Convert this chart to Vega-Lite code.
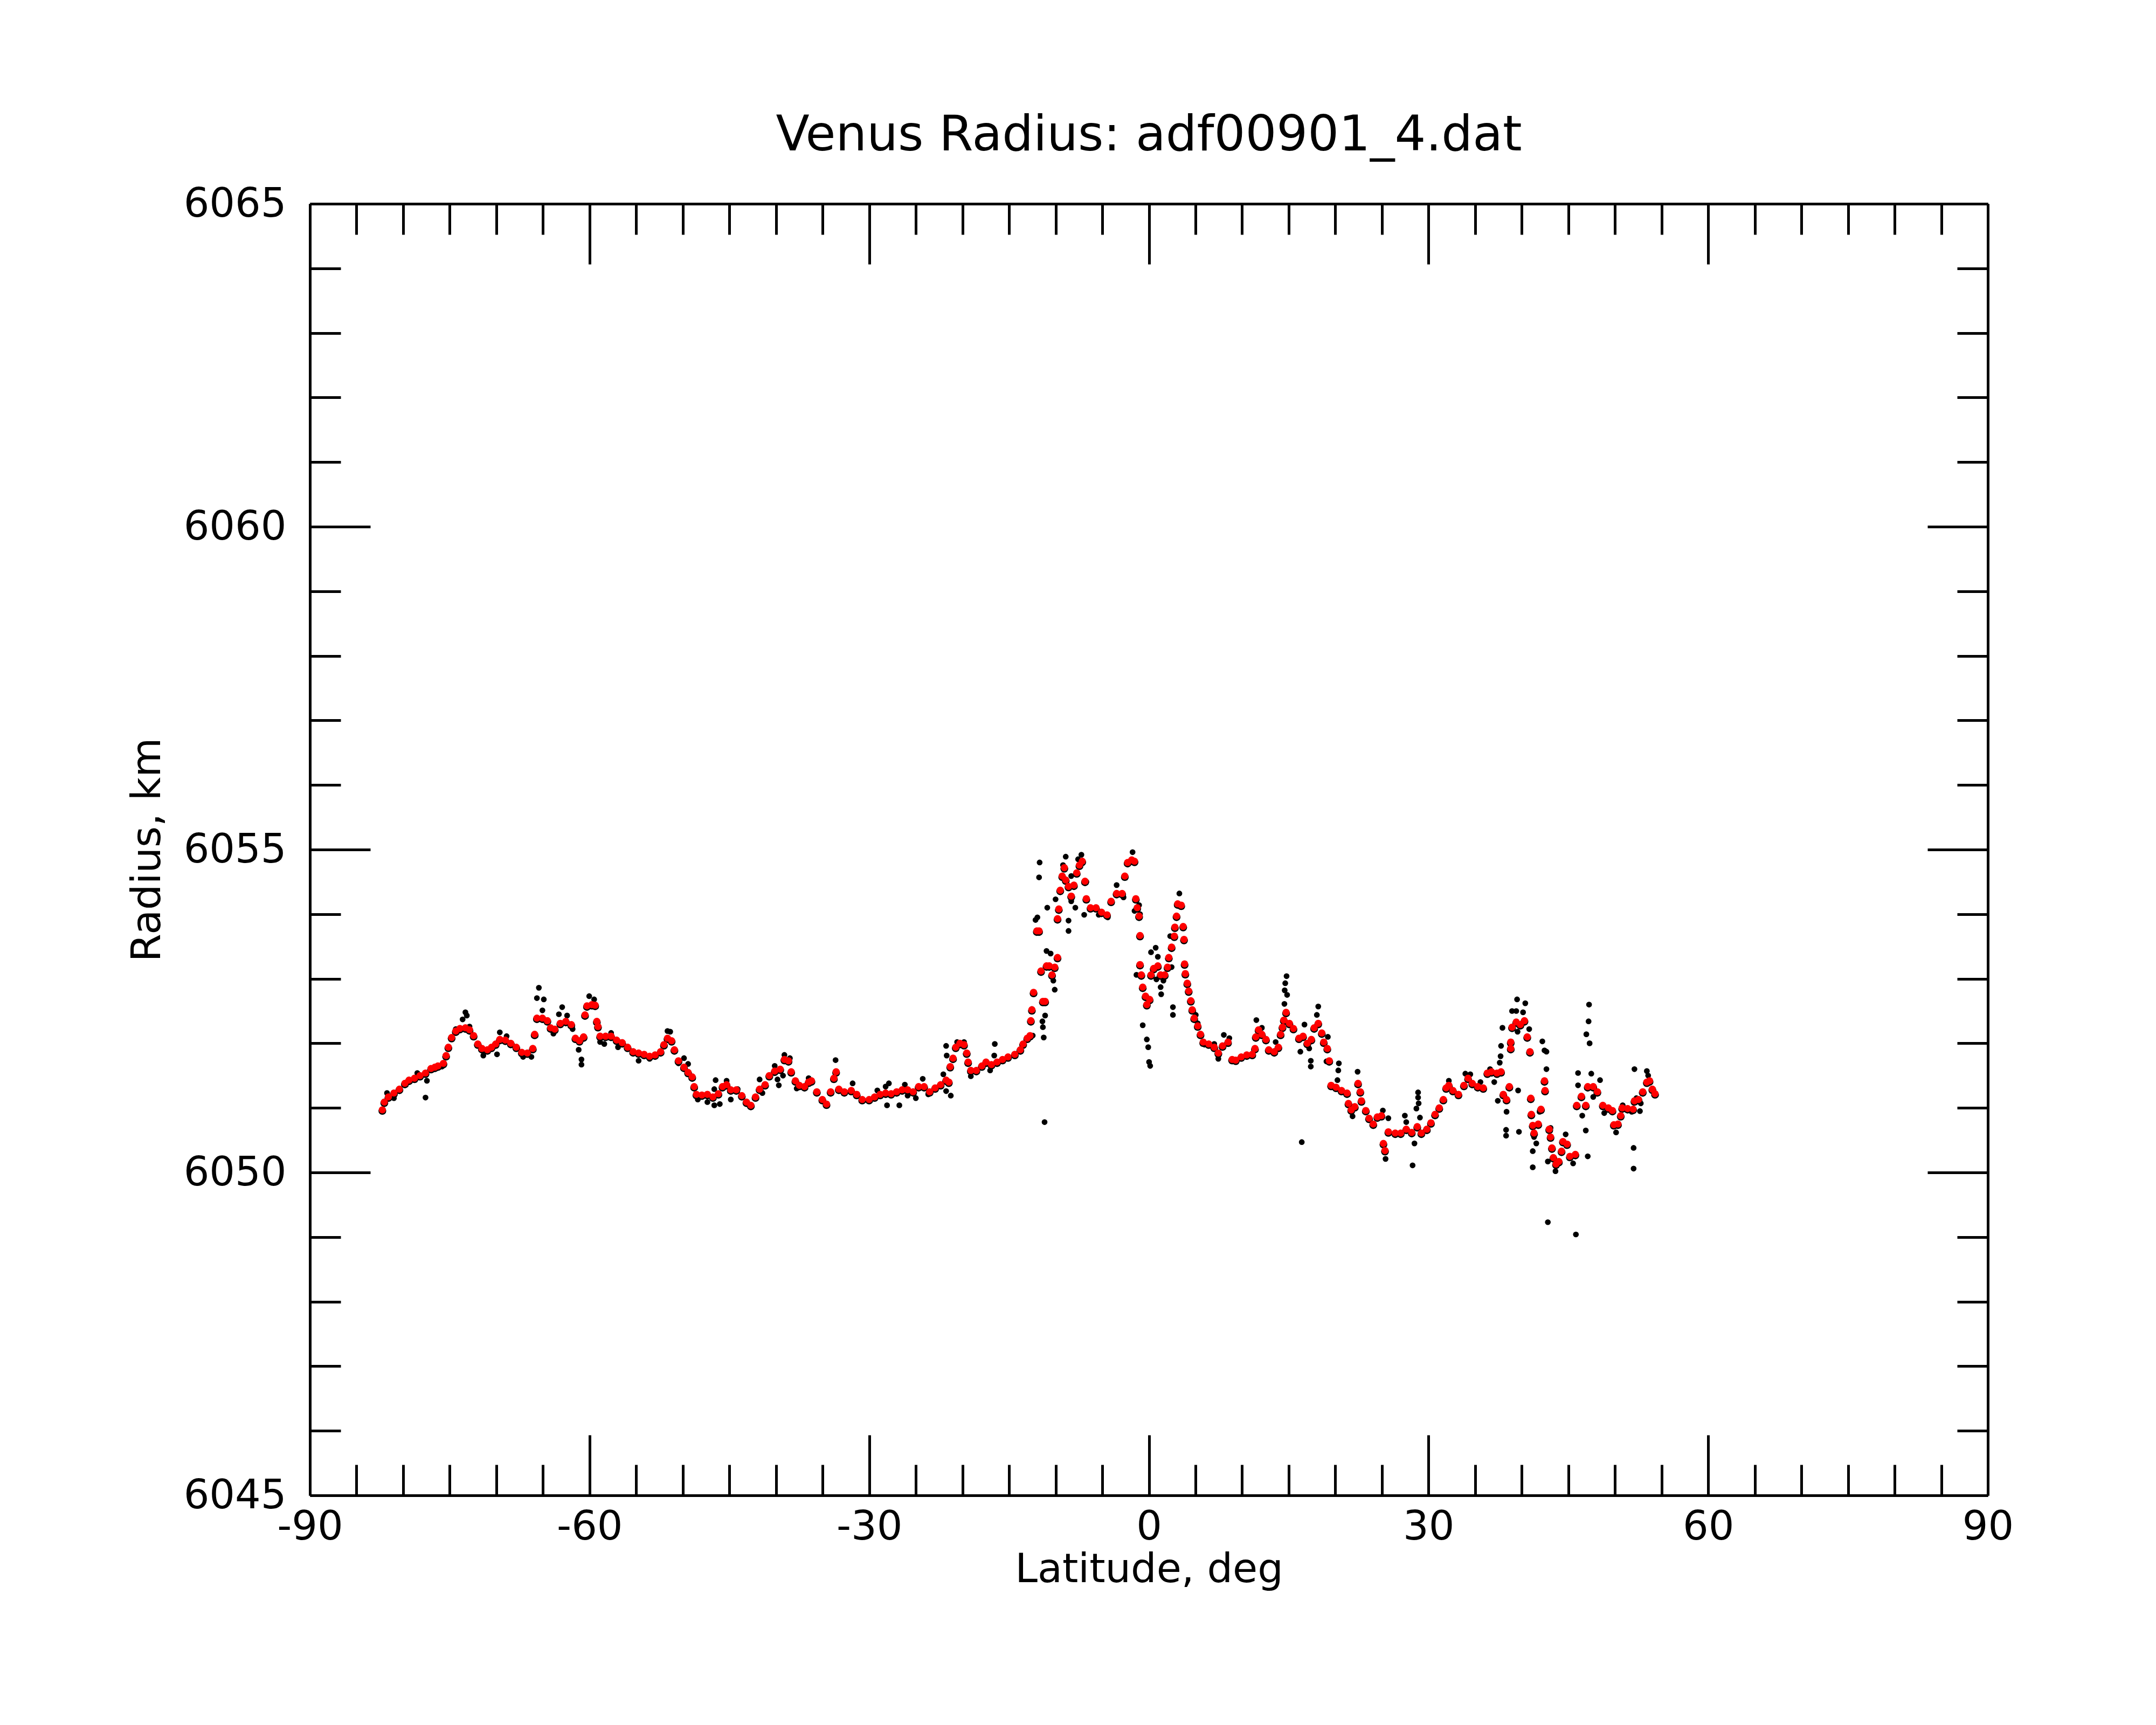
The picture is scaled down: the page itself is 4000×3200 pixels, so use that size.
{
"$schema":"https://vega.github.io/schema/vega-lite/v6.json",
"width":3113,"height":2396,
"autosize":"none",
"padding":{"left":575,"top":378,"right":312,"bottom":426},
"background":"white",
"config":{"font":"DejaVu Sans","view":{"stroke":null}},
"title":{"text":"Venus Radius: adf00901_4.dat","fontSize":91,"font":"DejaVu Sans","fontWeight":"normal","color":"black","anchor":"middle","baseline":"alphabetic","offset":-29},
"datasets":{
"fit":[
{"lat":-82.23,"r":6050.97},{"lat":-82.02,"r":6051.09},{"lat":-81.58,"r":6051.17},{"lat":-80.99,"r":6051.23},{"lat":-80.4,"r":6051.29},{"lat":-79.81,"r":6051.38},{"lat":-79.37,"r":6051.43},{"lat":-78.78,"r":6051.46},{"lat":-78.19,"r":6051.5},{"lat":-77.6,"r":6051.54},{"lat":-77.01,"r":6051.61},{"lat":-76.6,"r":6051.63},{"lat":-76.27,"r":6051.65},{"lat":-75.68,"r":6051.69},{"lat":-75.39,"r":6051.81},{"lat":-75.15,"r":6051.94},{"lat":-74.8,"r":6052.09},{"lat":-74.35,"r":6052.19},{"lat":-73.91,"r":6052.23},{"lat":-73.32,"r":6052.24},{"lat":-72.88,"r":6052.21},{"lat":-72.44,"r":6052.12},{"lat":-71.99,"r":6051.99},{"lat":-71.55,"r":6051.92},{"lat":-70.96,"r":6051.9},{"lat":-70.52,"r":6051.94},{"lat":-70.07,"r":6051.99},{"lat":-69.63,"r":6052.06},{"lat":-69.04,"r":6052.05},{"lat":-68.45,"r":6052.0},{"lat":-67.86,"r":6051.94},{"lat":-67.27,"r":6051.86},{"lat":-66.68,"r":6051.85},{"lat":-66.09,"r":6051.92},{"lat":-65.89,"r":6052.14},{"lat":-65.65,"r":6052.39},{"lat":-65.06,"r":6052.39},{"lat":-64.53,"r":6052.35},{"lat":-64.18,"r":6052.24},{"lat":-63.73,"r":6052.22},{"lat":-63.14,"r":6052.31},{"lat":-62.55,"r":6052.34},{"lat":-61.96,"r":6052.29},{"lat":-61.52,"r":6052.08},{"lat":-61.08,"r":6052.04},{"lat":-60.64,"r":6052.1},{"lat":-60.49,"r":6052.44},{"lat":-60.28,"r":6052.58},{"lat":-59.75,"r":6052.6},{"lat":-59.4,"r":6052.59},{"lat":-59.22,"r":6052.34},{"lat":-59.1,"r":6052.26},{"lat":-58.87,"r":6052.11},{"lat":-58.28,"r":6052.11},{"lat":-57.69,"r":6052.11},{"lat":-57.1,"r":6052.05},{"lat":-56.5,"r":6052.01},{"lat":-55.92,"r":6051.94},{"lat":-55.33,"r":6051.87},{"lat":-54.74,"r":6051.85},{"lat":-54.15,"r":6051.83},{"lat":-53.56,"r":6051.8},{"lat":-52.97,"r":6051.82},{"lat":-52.38,"r":6051.87},{"lat":-52.02,"r":6051.98},{"lat":-51.64,"r":6052.08},{"lat":-51.2,"r":6052.04},{"lat":-50.9,"r":6051.9},{"lat":-50.46,"r":6051.73},{"lat":-49.87,"r":6051.63},{"lat":-49.43,"r":6051.55},{"lat":-48.99,"r":6051.48},{"lat":-48.78,"r":6051.33},{"lat":-48.54,"r":6051.21},{"lat":-47.95,"r":6051.2},{"lat":-47.36,"r":6051.21},{"lat":-46.77,"r":6051.17},{"lat":-46.18,"r":6051.22},{"lat":-45.74,"r":6051.33},{"lat":-45.3,"r":6051.36},{"lat":-44.85,"r":6051.28},{"lat":-44.26,"r":6051.28},{"lat":-43.67,"r":6051.19},{"lat":-43.17,"r":6051.09},{"lat":-42.7,"r":6051.04},{"lat":-42.2,"r":6051.17},{"lat":-41.76,"r":6051.29},{"lat":-41.17,"r":6051.36},{"lat":-40.72,"r":6051.5},{"lat":-40.14,"r":6051.57},{"lat":-39.55,"r":6051.6},{"lat":-39.1,"r":6051.75},{"lat":-38.66,"r":6051.73},{"lat":-38.37,"r":6051.56},{"lat":-37.92,"r":6051.42},{"lat":-37.5,"r":6051.35},{"lat":-36.94,"r":6051.33},{"lat":-36.5,"r":6051.4},{"lat":-36.2,"r":6051.42},{"lat":-35.62,"r":6051.25},{"lat":-35.03,"r":6051.13},{"lat":-34.58,"r":6051.06},{"lat":-34.14,"r":6051.25},{"lat":-33.79,"r":6051.46},{"lat":-33.55,"r":6051.56},{"lat":-33.26,"r":6051.29},{"lat":-32.67,"r":6051.25},{"lat":-31.93,"r":6051.27},{"lat":-31.34,"r":6051.21},{"lat":-30.75,"r":6051.13},{"lat":-30.01,"r":6051.13},{"lat":-29.42,"r":6051.17},{"lat":-28.83,"r":6051.21},{"lat":-28.24,"r":6051.23},{"lat":-27.65,"r":6051.22},{"lat":-27.06,"r":6051.25},{"lat":-26.47,"r":6051.28},{"lat":-25.88,"r":6051.28},{"lat":-25.29,"r":6051.25},{"lat":-24.7,"r":6051.33},{"lat":-24.11,"r":6051.33},{"lat":-23.52,"r":6051.25},{"lat":-22.93,"r":6051.31},{"lat":-22.34,"r":6051.36},{"lat":-21.75,"r":6051.43},{"lat":-21.46,"r":6051.4},{"lat":-21.31,"r":6051.64},{"lat":-21.01,"r":6051.77},{"lat":-20.72,"r":6051.94},{"lat":-20.28,"r":6052.0},{"lat":-19.83,"r":6051.98},{"lat":-19.54,"r":6051.85},{"lat":-19.39,"r":6051.71},{"lat":-19.1,"r":6051.58},{"lat":-18.51,"r":6051.58},{"lat":-17.92,"r":6051.65},{"lat":-17.47,"r":6051.71},{"lat":-16.89,"r":6051.67},{"lat":-16.29,"r":6051.71},{"lat":-15.7,"r":6051.75},{"lat":-15.11,"r":6051.79},{"lat":-14.38,"r":6051.83},{"lat":-13.79,"r":6051.9},{"lat":-13.49,"r":6051.99},{"lat":-13.05,"r":6052.08},{"lat":-12.75,"r":6052.12},{"lat":-12.66,"r":6052.35},{"lat":-12.55,"r":6052.52},{"lat":-12.37,"r":6052.79},{"lat":-12.02,"r":6053.74},{"lat":-11.78,"r":6053.74},{"lat":-11.57,"r":6053.12},{"lat":-11.37,"r":6052.65},{"lat":-11.13,"r":6052.65},{"lat":-10.98,"r":6053.2},{"lat":-10.69,"r":6053.2},{"lat":-10.39,"r":6053.06},{"lat":-10.1,"r":6053.18},{"lat":-9.8,"r":6053.33},{"lat":-9.8,"r":6053.93},{"lat":-9.66,"r":6054.08},{"lat":-9.51,"r":6054.37},{"lat":-9.3,"r":6054.59},{"lat":-9.07,"r":6054.72},{"lat":-8.92,"r":6054.53},{"lat":-8.62,"r":6054.43},{"lat":-8.33,"r":6054.28},{"lat":-8.04,"r":6054.45},{"lat":-7.74,"r":6054.64},{"lat":-7.45,"r":6054.76},{"lat":-7.15,"r":6054.82},{"lat":-6.85,"r":6054.51},{"lat":-6.71,"r":6054.24},{"lat":-6.26,"r":6054.1},{"lat":-5.67,"r":6054.1},{"lat":-5.08,"r":6054.03},{"lat":-4.49,"r":6053.99},{"lat":-4.05,"r":6054.2},{"lat":-3.46,"r":6054.32},{"lat":-2.87,"r":6054.32},{"lat":-2.58,"r":6054.59},{"lat":-2.28,"r":6054.8},{"lat":-1.84,"r":6054.84},{"lat":-1.54,"r":6054.82},{"lat":-1.4,"r":6054.24},{"lat":-1.25,"r":6054.1},{"lat":-1.05,"r":6053.97},{"lat":-0.95,"r":6053.67},{"lat":-0.95,"r":6053.22},{"lat":-0.81,"r":6053.06},{"lat":-0.66,"r":6052.87},{"lat":-0.36,"r":6052.73},{"lat":-0.22,"r":6052.6},{"lat":0.08,"r":6052.68},{"lat":0.23,"r":6053.06},{"lat":0.52,"r":6053.16},{"lat":0.96,"r":6053.2},{"lat":1.26,"r":6053.06},{"lat":1.7,"r":6053.06},{"lat":2.0,"r":6053.18},{"lat":2.14,"r":6053.33},{"lat":2.44,"r":6053.49},{"lat":2.73,"r":6053.66},{"lat":2.79,"r":6053.8},{"lat":2.97,"r":6053.97},{"lat":3.09,"r":6054.16},{"lat":3.47,"r":6054.14},{"lat":3.68,"r":6053.81},{"lat":3.77,"r":6053.61},{"lat":3.83,"r":6053.23},{"lat":3.91,"r":6053.08},{"lat":4.12,"r":6052.93},{"lat":4.27,"r":6052.81},{"lat":4.5,"r":6052.66},{"lat":4.65,"r":6052.52},{"lat":4.86,"r":6052.39},{"lat":5.24,"r":6052.27},{"lat":5.54,"r":6052.14},{"lat":5.83,"r":6052.02},{"lat":6.42,"r":6051.99},{"lat":7.01,"r":6051.94},{"lat":7.45,"r":6051.85},{"lat":7.9,"r":6051.96},{"lat":8.49,"r":6052.02},{"lat":8.93,"r":6051.75},{"lat":9.32,"r":6051.74},{"lat":9.91,"r":6051.79},{"lat":10.5,"r":6051.82},{"lat":11.09,"r":6051.83},{"lat":11.38,"r":6051.92},{"lat":11.47,"r":6052.1},{"lat":11.77,"r":6052.21},{"lat":12.12,"r":6052.14},{"lat":12.56,"r":6052.06},{"lat":12.86,"r":6051.9},{"lat":13.45,"r":6051.87},{"lat":13.89,"r":6051.94},{"lat":14.13,"r":6052.14},{"lat":14.33,"r":6052.25},{"lat":14.48,"r":6052.36},{"lat":14.72,"r":6052.48},{"lat":15.07,"r":6052.31},{"lat":15.51,"r":6052.23},{"lat":16.1,"r":6052.08},{"lat":16.54,"r":6052.11},{"lat":16.99,"r":6052.0},{"lat":17.43,"r":6052.06},{"lat":17.73,"r":6052.24},{"lat":18.17,"r":6052.31},{"lat":18.55,"r":6052.16},{"lat":18.76,"r":6052.02},{"lat":19.14,"r":6051.92},{"lat":19.35,"r":6051.73},{"lat":19.55,"r":6051.35},{"lat":20.08,"r":6051.32},{"lat":20.67,"r":6051.27},{"lat":21.26,"r":6051.23},{"lat":21.41,"r":6051.07},{"lat":21.71,"r":6050.97},{"lat":22.09,"r":6051.02},{"lat":22.44,"r":6051.38},{"lat":22.68,"r":6051.25},{"lat":22.8,"r":6051.11},{"lat":23.27,"r":6050.96},{"lat":23.62,"r":6050.84},{"lat":24.07,"r":6050.75},{"lat":24.51,"r":6050.86},{"lat":24.95,"r":6050.88},{"lat":25.16,"r":6050.45},{"lat":25.33,"r":6050.34},{"lat":25.69,"r":6050.63},{"lat":26.43,"r":6050.61},{"lat":27.02,"r":6050.61},{"lat":27.61,"r":6050.67},{"lat":28.2,"r":6050.62},{"lat":28.79,"r":6050.71},{"lat":29.23,"r":6050.61},{"lat":29.82,"r":6050.67},{"lat":30.26,"r":6050.77},{"lat":30.7,"r":6050.9},{"lat":31.15,"r":6051.0},{"lat":31.59,"r":6051.13},{"lat":31.89,"r":6051.31},{"lat":32.18,"r":6051.35},{"lat":32.62,"r":6051.27},{"lat":33.21,"r":6051.21},{"lat":33.8,"r":6051.35},{"lat":34.24,"r":6051.46},{"lat":34.69,"r":6051.38},{"lat":35.28,"r":6051.33},{"lat":35.87,"r":6051.31},{"lat":36.31,"r":6051.54},{"lat":36.75,"r":6051.56},{"lat":37.34,"r":6051.54},{"lat":37.78,"r":6051.56},{"lat":38.02,"r":6051.21},{"lat":38.37,"r":6051.13},{"lat":38.67,"r":6051.33},{"lat":38.82,"r":6051.92},{"lat":38.82,"r":6052.02},{"lat":38.96,"r":6052.25},{"lat":39.41,"r":6052.33},{"lat":39.85,"r":6052.29},{"lat":40.29,"r":6052.35},{"lat":40.59,"r":6052.1},{"lat":40.88,"r":6051.87},{"lat":40.97,"r":6051.15},{"lat":41.03,"r":6050.9},{"lat":41.18,"r":6050.73},{"lat":41.32,"r":6050.61},{"lat":41.77,"r":6050.75},{"lat":42.06,"r":6050.98},{"lat":42.44,"r":6051.42},{"lat":42.5,"r":6051.27},{"lat":42.95,"r":6050.67},{"lat":43.09,"r":6050.55},{"lat":43.24,"r":6050.38},{"lat":43.39,"r":6050.23},{"lat":43.68,"r":6050.13},{"lat":43.98,"r":6050.17},{"lat":44.27,"r":6050.33},{"lat":44.42,"r":6050.48},{"lat":44.86,"r":6050.44},{"lat":45.16,"r":6050.25},{"lat":45.75,"r":6050.28},{"lat":45.9,"r":6051.04},{"lat":46.4,"r":6051.18},{"lat":46.87,"r":6051.04},{"lat":47.08,"r":6051.33},{"lat":47.67,"r":6051.33},{"lat":48.11,"r":6051.25},{"lat":48.7,"r":6051.04},{"lat":49.29,"r":6051.0},{"lat":49.73,"r":6050.96},{"lat":49.88,"r":6050.74},{"lat":50.32,"r":6050.75},{"lat":50.62,"r":6050.88},{"lat":50.77,"r":6051.0},{"lat":51.36,"r":6050.99},{"lat":51.95,"r":6050.98},{"lat":52.09,"r":6051.11},{"lat":52.53,"r":6051.13},{"lat":52.98,"r":6051.25},{"lat":53.42,"r":6051.4},{"lat":53.71,"r":6051.42},{"lat":54.01,"r":6051.29},{"lat":54.3,"r":6051.22}
],
"raw":[
{"lat":-81.73,"r":6051.23},{"lat":-80.99,"r":6051.15},{"lat":-78.48,"r":6051.54},{"lat":-77.45,"r":6051.42},{"lat":-77.6,"r":6051.16},{"lat":-75.83,"r":6051.64},{"lat":-74.35,"r":6052.22},{"lat":-73.62,"r":6052.37},{"lat":-73.32,"r":6052.48},{"lat":-73.17,"r":6052.43},{"lat":-72.88,"r":6052.26},{"lat":-71.4,"r":6051.81},{"lat":-69.93,"r":6051.83},{"lat":-69.63,"r":6052.17},{"lat":-68.9,"r":6052.11},{"lat":-67.13,"r":6051.79},{"lat":-66.24,"r":6051.79},{"lat":-65.44,"r":6052.86},{"lat":-65.65,"r":6052.7},{"lat":-64.91,"r":6052.68},{"lat":-65.06,"r":6052.51},{"lat":-63.88,"r":6052.15},{"lat":-63.29,"r":6052.45},{"lat":-62.94,"r":6052.56},{"lat":-62.41,"r":6052.43},{"lat":-61.82,"r":6052.22},{"lat":-61.17,"r":6051.9},{"lat":-60.87,"r":6051.75},{"lat":-60.87,"r":6051.67},{"lat":-60.04,"r":6052.73},{"lat":-59.51,"r":6052.68},{"lat":-58.87,"r":6052.02},{"lat":-58.42,"r":6051.99},{"lat":-57.69,"r":6052.16},{"lat":-56.95,"r":6051.94},{"lat":-54.74,"r":6051.73},{"lat":-53.56,"r":6051.76},{"lat":-51.64,"r":6052.19},{"lat":-51.35,"r":6052.18},{"lat":-50.46,"r":6051.69},{"lat":-49.87,"r":6051.77},{"lat":-49.43,"r":6051.68},{"lat":-48.39,"r":6051.13},{"lat":-47.36,"r":6051.09},{"lat":-46.62,"r":6051.04},{"lat":-46.48,"r":6051.43},{"lat":-46.03,"r":6051.06},{"lat":-46.62,"r":6051.29},{"lat":-45.3,"r":6051.42},{"lat":-44.85,"r":6051.13},{"lat":-44.11,"r":6051.29},{"lat":-42.79,"r":6051.02},{"lat":-41.76,"r":6051.44},{"lat":-41.46,"r":6051.23},{"lat":-40.14,"r":6051.65},{"lat":-39.84,"r":6051.44},{"lat":-39.7,"r":6051.35},{"lat":-39.25,"r":6051.5},{"lat":-39.1,"r":6051.82},{"lat":-38.51,"r":6051.77},{"lat":-37.78,"r":6051.3},
{"lat":-36.5,"r":6051.46},{"lat":-33.61,"r":6051.74},{"lat":-31.78,"r":6051.38},{"lat":-29.13,"r":6051.27},{"lat":-28.09,"r":6051.04},{"lat":-28.24,"r":6051.33},{"lat":-27.89,"r":6051.38},{"lat":-26.77,"r":6051.04},{"lat":-26.18,"r":6051.36},{"lat":-25.88,"r":6051.19},{"lat":-25.0,"r":6051.15},{"lat":-24.26,"r":6051.45},{"lat":-23.67,"r":6051.21},{"lat":-22.05,"r":6051.52},{"lat":-21.75,"r":6051.26},{"lat":-21.25,"r":6051.19},{"lat":-21.75,"r":6051.96},{"lat":-21.69,"r":6051.81},{"lat":-20.57,"r":6052.02},{"lat":-19.83,"r":6052.02},{"lat":-19.1,"r":6051.49},{"lat":-18.51,"r":6051.56},{"lat":-17.03,"r":6051.58},{"lat":-16.53,"r":6051.99},{"lat":-16.59,"r":6051.81},{"lat":-12.46,"r":6052.12},{"lat":-12.55,"r":6052.53},{"lat":-12.16,"r":6053.91},{"lat":-11.96,"r":6053.95},{"lat":-11.72,"r":6054.8},{"lat":-11.78,"r":6054.57},{"lat":-10.98,"r":6053.43},{"lat":-10.54,"r":6053.39},{"lat":-10.25,"r":6052.97},{"lat":-10.1,"r":6052.83},{"lat":-11.13,"r":6052.43},{"lat":-11.42,"r":6052.34},{"lat":-11.37,"r":6052.25},{"lat":-11.28,"r":6052.09},{"lat":-11.19,"r":6050.78},{"lat":-10.9,"r":6054.1},{"lat":-10.01,"r":6054.23},{"lat":-9.21,"r":6054.76},{"lat":-8.92,"r":6054.89},{"lat":-8.62,"r":6053.9},{"lat":-8.62,"r":6053.74},{"lat":-8.33,"r":6054.2},{"lat":-7.89,"r":6054.1},{"lat":-8.33,"r":6054.59},{"lat":-7.59,"r":6054.85},{"lat":-7.24,"r":6054.92},{"lat":-6.94,"r":6053.99},{"lat":-6.71,"r":6054.5},{"lat":-5.38,"r":6053.99},{"lat":-4.41,"r":6053.95},{"lat":-3.46,"r":6054.45},{"lat":-2.72,"r":6054.26},{"lat":-1.75,"r":6054.96},{"lat":-1.54,"r":6054.05},{"lat":-1.05,"r":6054.14},{"lat":-0.95,"r":6054.0},{"lat":-1.33,"r":6053.06},{"lat":-0.66,"r":6052.28},{"lat":-0.22,"r":6052.06},{"lat":-0.07,"r":6051.94},{"lat":0.02,"r":6051.71},{"lat":0.14,"r":6051.65},{"lat":0.23,"r":6053.41},{"lat":0.73,"r":6053.48},{"lat":0.96,"r":6053.34},{"lat":0.81,"r":6052.99},{"lat":1.26,"r":6052.87},{"lat":1.32,"r":6052.76},{"lat":1.56,"r":6052.97},{"lat":2.44,"r":6053.18},{"lat":2.29,"r":6053.66},{"lat":2.58,"r":6052.56},{"lat":2.58,"r":6052.44},{"lat":3.27,"r":6054.32},{"lat":5.03,"r":6052.44},{"lat":5.24,"r":6052.31},{"lat":5.98,"r":6051.98},{"lat":7.01,"r":6051.99},{"lat":7.45,"r":6051.76},{"lat":8.04,"r":6052.13},{"lat":8.63,"r":6052.08},
{"lat":11.53,"r":6052.36},{"lat":12.12,"r":6052.24},{"lat":13.6,"r":6052.02},{"lat":14.77,"r":6053.04},{"lat":14.63,"r":6052.93},{"lat":14.57,"r":6052.82},{"lat":14.83,"r":6052.75},{"lat":14.54,"r":6052.61},{"lat":16.25,"r":6051.87},{"lat":16.4,"r":6050.47},{"lat":16.69,"r":6052.29},{"lat":17.2,"r":6051.92},{"lat":17.37,"r":6051.73},{"lat":17.37,"r":6051.64},{"lat":18.17,"r":6052.57},{"lat":18.02,"r":6052.44},{"lat":19.2,"r":6052.1},{"lat":19.05,"r":6051.72},{"lat":20.38,"r":6051.69},{"lat":20.32,"r":6051.58},{"lat":20.23,"r":6051.43},{"lat":21.85,"r":6050.87},{"lat":22.39,"r":6051.56},{"lat":25.1,"r":6050.96},{"lat":25.69,"r":6050.84},{"lat":25.39,"r":6050.21},{"lat":27.46,"r":6050.88},{"lat":27.61,"r":6050.78},{"lat":28.49,"r":6050.45},{"lat":28.29,"r":6050.11},{"lat":28.88,"r":6051.24},{"lat":28.88,"r":6051.16},{"lat":28.94,"r":6051.07},{"lat":28.7,"r":6050.99},{"lat":29.08,"r":6050.85},{"lat":32.18,"r":6051.42},{"lat":33.95,"r":6051.53},{"lat":34.48,"r":6051.52},{"lat":35.57,"r":6051.4},{"lat":36.6,"r":6051.6},{"lat":37.05,"r":6051.4},{"lat":37.43,"r":6051.11},{"lat":37.64,"r":6051.7},{"lat":37.73,"r":6051.8},{"lat":37.78,"r":6051.96},{"lat":37.93,"r":6052.24},{"lat":38.37,"r":6050.94},{"lat":38.32,"r":6050.66},{"lat":38.32,"r":6050.57},{"lat":38.96,"r":6052.5},{"lat":39.41,"r":6052.5},{"lat":39.5,"r":6052.68},{"lat":39.7,"r":6050.63},{"lat":39.61,"r":6051.27},{"lat":39.55,"r":6052.18},{"lat":40.14,"r":6052.48},{"lat":40.38,"r":6052.62},{"lat":40.8,"r":6052.22},{"lat":41.18,"r":6050.33},{"lat":41.18,"r":6050.08},{"lat":41.32,"r":6050.55},{"lat":41.56,"r":6050.45},{"lat":41.91,"r":6050.94},{"lat":42.21,"r":6052.03},{"lat":42.44,"r":6051.89},{"lat":42.65,"r":6051.87},{"lat":42.65,"r":6051.6},{"lat":42.8,"r":6049.23},{"lat":42.8,"r":6050.17},{"lat":43.09,"r":6050.69},{"lat":43.62,"r":6050.02},{"lat":44.71,"r":6050.59},{"lat":45.51,"r":6050.14},{"lat":45.81,"r":6049.04},{"lat":46.04,"r":6051.54},{"lat":46.04,"r":6051.35},{"lat":46.49,"r":6050.88},{"lat":46.87,"r":6050.65},{"lat":47.08,"r":6050.25},{"lat":47.22,"r":6052.6},{"lat":47.17,"r":6052.34},{"lat":46.93,"r":6052.14},{"lat":47.28,"r":6052.0},{"lat":47.46,"r":6051.53},{"lat":47.67,"r":6051.17},{"lat":48.4,"r":6051.43},{"lat":48.85,"r":6050.92},{"lat":50.12,"r":6050.62},{"lat":50.83,"r":6051.04},{"lat":51.8,"r":6050.94},{"lat":52.0,"r":6050.38},{"lat":52.0,"r":6050.06},{"lat":52.09,"r":6051.6},{"lat":52.3,"r":6051.15},{"lat":52.68,"r":6050.95},{"lat":52.77,"r":6051.07},{"lat":53.42,"r":6051.57},{"lat":53.56,"r":6051.5}
]},
"layer":[
{"data":{"name":"fit"},"mark":{"type":"circle","color":"black","opacity":1,"size":210,"yOffset":2},
"encoding":{
"x":{"field":"lat","type":"quantitative","scale":{"domain":[-90,90],"nice":false,"zero":false},
"axis":{"orient":"bottom","values":[-90,-60,-30,0,30,60,90],"labelExpr":"toString(datum.value)","tickSize":-112,"tickWidth":5,"tickColor":"black","domain":true,"domainWidth":5,"domainColor":"black","grid":false,"labelFontSize":75,"labelFont":"DejaVu Sans","labelColor":"black","labelBaseline":"alphabetic","labelPadding":193,"labelFlush":false,"labelOverlap":false,"labelLimit":1000,"title":"Latitude, deg","titleFontSize":75,"titleFont":"DejaVu Sans","titleFontWeight":"normal","titleColor":"black","titleBaseline":"alphabetic","titleY":160}},
"y":{"field":"r","type":"quantitative","scale":{"domain":[6045,6065],"nice":false,"zero":false},
"axis":{"orient":"left","values":[6045,6050,6055,6060,6065],"labelExpr":"toString(datum.value)","tickSize":-112,"tickWidth":5,"tickColor":"black","domain":true,"domainWidth":5,"domainColor":"black","grid":false,"labelFontSize":75,"labelFont":"DejaVu Sans","labelColor":"black","labelBaseline":"middle","labelPadding":156,"labelFlush":false,"labelOverlap":false,"labelLimit":1000,"title":"Radius, km","titleFontSize":75,"titleFont":"DejaVu Sans","titleFontWeight":"normal","titleColor":"black","titleBaseline":"alphabetic","titleX":-279}}}},
{"data":{"name":"raw"},"mark":{"type":"circle","color":"black","opacity":1,"size":115},
"encoding":{
"x":{"field":"lat","type":"quantitative","scale":{"domain":[-90,90],"nice":false,"zero":false},
"axis":{"orient":"top","values":[-90,-60,-30,0,30,60,90],"tickSize":-112,"tickWidth":5,"tickColor":"black","domain":true,"domainWidth":5,"domainColor":"black","grid":false,"labels":false,"title":null}},
"y":{"field":"r","type":"quantitative","scale":{"domain":[6045,6065],"nice":false,"zero":false},
"axis":{"orient":"right","values":[6045,6050,6055,6060,6065],"tickSize":-112,"tickWidth":5,"tickColor":"black","domain":true,"domainWidth":5,"domainColor":"black","grid":false,"labels":false,"title":null}}}},
{"data":{"name":"fit"},"mark":{"type":"circle","color":"#ff0000","opacity":1,"size":175},
"encoding":{
"x":{"field":"lat","type":"quantitative","scale":{"domain":[-90,90],"nice":false,"zero":false},
"axis":{"orient":"bottom","values":[-85,-80,-75,-70,-65,-55,-50,-45,-40,-35,-25,-20,-15,-10,-5,5,10,15,20,25,35,40,45,50,55,65,70,75,80,85],"tickSize":-57,"tickWidth":5,"tickColor":"black","domain":false,"grid":false,"labels":false,"title":null}},
"y":{"field":"r","type":"quantitative","scale":{"domain":[6045,6065],"nice":false,"zero":false},
"axis":{"orient":"left","values":[6046,6047,6048,6049,6051,6052,6053,6054,6056,6057,6058,6059,6061,6062,6063,6064],"tickSize":-57,"tickWidth":5,"tickColor":"black","domain":false,"grid":false,"labels":false,"title":null}}}},
{"data":{"name":"fit"},"mark":{"type":"circle","color":"#ff0000","opacity":0,"size":10},
"encoding":{
"x":{"field":"lat","type":"quantitative","scale":{"domain":[-90,90],"nice":false,"zero":false},
"axis":{"orient":"top","values":[-85,-80,-75,-70,-65,-55,-50,-45,-40,-35,-25,-20,-15,-10,-5,5,10,15,20,25,35,40,45,50,55,65,70,75,80,85],"tickSize":-57,"tickWidth":5,"tickColor":"black","domain":false,"grid":false,"labels":false,"title":null}},
"y":{"field":"r","type":"quantitative","scale":{"domain":[6045,6065],"nice":false,"zero":false},
"axis":{"orient":"right","values":[6046,6047,6048,6049,6051,6052,6053,6054,6056,6057,6058,6059,6061,6062,6063,6064],"tickSize":-57,"tickWidth":5,"tickColor":"black","domain":false,"grid":false,"labels":false,"title":null}}}}
],
"resolve":{"axis":{"x":"independent","y":"independent"}}
}
